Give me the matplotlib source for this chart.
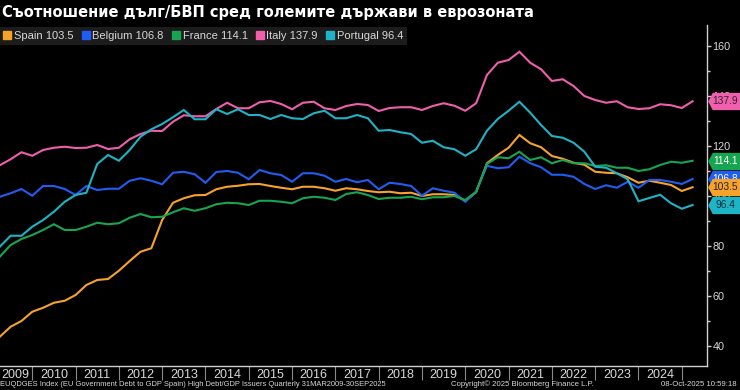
import numpy as np
import matplotlib.pyplot as plt
from matplotlib.path import Path

# quarterly debt/GDP, Q1 2009 .. Q2 2025
quarters = 2009.25 + 0.25 * np.arange(65)

spain = [43.7, 47.7, 50.0, 53.7, 55.3, 57.3, 58.1, 60.4, 64.4, 66.4,
         66.8, 70.1, 74.0, 77.7, 79.1, 90.4, 97.3, 99.1, 100.3, 100.4,
         102.7, 103.7, 104.1, 104.7, 104.8, 104.0, 103.3, 102.7, 103.7, 103.7,
         103.1, 102.1, 103.1, 102.7, 102.0, 101.5, 101.7, 101.1, 101.3, 100.0,
         100.7, 100.7, 100.4, 98.0, 101.5, 113.1, 116.4, 119.3, 124.4, 121.1,
         119.5, 116.0, 114.9, 113.3, 112.5, 109.7, 109.3, 109.1, 107.5, 105.3,
         106.1, 105.3, 104.4, 102.0, 103.5]
belgium = [99.7, 101.1, 102.8, 100.1, 104.0, 104.0, 102.8, 100.4, 104.0, 102.4,
           102.9, 102.9, 106.1, 107.1, 106.1, 104.7, 109.3, 109.7, 108.7, 105.3,
           109.6, 110.0, 109.3, 106.7, 110.4, 109.1, 108.4, 105.7, 109.1, 109.1,
           108.1, 105.7, 106.8, 105.5, 106.4, 102.7, 105.3, 104.8, 104.0, 100.1,
           103.1, 102.1, 101.3, 97.7, 101.7, 112.1, 111.1, 111.5, 115.7, 113.1,
           111.5, 108.5, 108.5, 107.7, 104.8, 102.8, 104.3, 103.3, 105.7, 103.3,
           106.4, 106.4, 105.7, 104.8, 106.8]
france = [75.7, 80.4, 82.8, 84.4, 86.4, 88.7, 86.4, 86.4, 87.7, 89.3,
          88.7, 89.1, 91.3, 92.8, 91.5, 91.7, 93.5, 95.1, 94.1, 95.1,
          96.7, 97.3, 97.1, 96.4, 98.1, 98.1, 97.7, 97.1, 99.1, 99.7,
          99.3, 98.4, 100.8, 101.5, 100.4, 98.8, 99.3, 99.3, 99.7, 98.7,
          99.5, 99.5, 100.0, 98.4, 101.7, 112.8, 115.5, 115.1, 117.7, 114.4,
          115.5, 113.1, 114.4, 113.1, 113.1, 112.0, 112.3, 111.3, 111.3, 110.0,
          110.7, 112.4, 113.7, 113.3, 114.1]
italy = [112.3, 114.7, 117.5, 116.1, 118.4, 119.3, 119.7, 119.2, 119.3, 120.4,
         118.8, 119.3, 122.7, 124.8, 126.1, 126.0, 129.7, 132.3, 131.9, 131.9,
         134.8, 137.3, 135.1, 135.1, 137.5, 138.0, 136.8, 134.7, 137.3, 137.7,
         135.1, 134.4, 136.0, 136.8, 136.4, 134.0, 135.2, 135.5, 135.5, 134.4,
         136.0, 137.1, 136.1, 134.1, 137.1, 148.4, 153.3, 154.4, 157.7, 153.3,
         150.7, 146.0, 146.7, 144.0, 140.0, 138.4, 137.3, 137.9, 135.5, 134.8,
         135.1, 136.7, 136.3, 135.2, 137.9]
portugal = [79.7, 84.1, 84.1, 87.7, 90.4, 93.7, 97.7, 100.4, 101.3, 112.8,
            116.4, 114.1, 118.4, 123.7, 126.7, 128.8, 131.5, 134.4, 130.7, 130.7,
            134.7, 132.8, 134.7, 132.4, 132.4, 130.8, 132.4, 131.1, 130.8, 133.1,
            134.1, 131.1, 131.1, 132.4, 131.1, 126.1, 126.4, 125.5, 124.8, 121.3,
            122.1, 119.5, 118.7, 116.1, 118.7, 126.1, 130.8, 134.1, 137.7, 133.3,
            128.4, 124.0, 123.3, 121.3, 117.7, 111.7, 111.3, 109.1, 106.7, 97.9,
            99.2, 100.5, 97.1, 94.9, 96.4]

names = ['Spain', 'Belgium', 'France', 'Italy', 'Portugal']
series = [spain, belgium, france, italy, portugal]
colors = ['#f7a32b', '#1f5ef0', '#17a552', '#ef5fae', '#1fb3c6']
tag_text = ['#222222', 'white', 'white', '#3a1f30', '#12323a']

years = list(range(2009, 2025))
year_pos = [2009.62] + [y + 0.5 for y in years[1:]]

BG = '#000000'
FG = '#d8d8d8'
SANS = ['Liberation Sans', 'DejaVu Sans']

fig = plt.figure(figsize=(7.4, 3.9), dpi=100, facecolor=BG)
ax = fig.add_axes([0, 24 / 390, 707 / 740, 341 / 390], facecolor=BG)

handles = []
for name, vals, col in zip(names, series, colors):
    ax.plot(quarters, vals, color=col, lw=1.5, solid_joinstyle='miter')
    h, = ax.plot([], [], ls='none', marker='s', ms=6, color=col)
    handles.append(h)

ax.set_xlim(2009.255, 2025.582)
ax.set_ylim(32, 168.4)

for s in ['left', 'top']:
    ax.spines[s].set_visible(False)
for s in ['right', 'bottom']:
    ax.spines[s].set_color('#cfcfcf')
    ax.spines[s].set_linewidth(1)

# y axis on the right
ax.yaxis.tick_right()
ax.set_yticks(range(40, 161, 20))
ax.set_yticks(range(50, 160, 20), minor=True)
ax.tick_params(axis='y', which='major', direction='out', length=3, width=1,
               colors='#cfcfcf', labelcolor=FG, labelsize=7.8, pad=1)
ax.tick_params(axis='y', which='minor', direction='out', length=2.5, width=1,
               colors='#cfcfcf')
for t in ax.get_yticklabels():
    t.set_fontfamily(SANS)

# x axis: year separators + centred year labels
ax.set_xticks(range(2010, 2026))
ax.set_xticklabels([])
ax.set_xticks(year_pos, minor=True)
ax.set_xticklabels([str(y) for y in years], minor=True)
ax.tick_params(axis='x', which='major', direction='out', length=10, width=0.8,
               colors='#8a8a8a')
ax.tick_params(axis='x', which='minor', length=0, pad=2, labelsize=9,
               labelcolor=FG)
for t in ax.get_xticklabels(minor=True):
    t.set_fontfamily(SANS)

# value tags on the right axis
tag = Path([(-1.0, 0.0), (-0.72, 0.53), (1.0, 0.53), (1.0, -0.53),
            (-0.72, -0.53), (-1.0, 0.0)], closed=True)
ytr = ax.get_yaxis_transform()
order = [4, 3, 2, 1, 0]
for z, i in enumerate(order):
    v = series[i][-1]
    ax.plot([1.024], [v], transform=ytr, marker=tag, ms=23.5, color=colors[i],
            mec='none', clip_on=False, zorder=5 + z)
    ax.text(1.0255, v, f'{v:.1f}', transform=ytr, ha='center', va='center',
            fontsize=7.4, color=tag_text[i], family=SANS, clip_on=False,
            zorder=5.5 + z)

# legend strip
leg = ax.legend(handles, [f'{n} {s[-1]:.1f}' for n, s in zip(names, series)],
                loc='upper left', bbox_to_anchor=(0, (390 - 27) / 390),
                bbox_transform=fig.transFigure, ncol=5, frameon=True,
                fancybox=False, framealpha=1, facecolor='#1c1c1c',
                edgecolor='none', handlelength=0.6, handletextpad=0.3,
                columnspacing=0.8, borderpad=0.35, borderaxespad=0,
                prop={'family': SANS, 'size': 8})
for t in leg.get_texts():
    t.set_color(FG)

fig.text(0.003, 1 - 13 / 390, 'Съотношение дълг/БВП сред големите държави в еврозоната',
         color='white', fontsize=10.5, fontweight='bold', ha='left', va='center',
         family='DejaVu Sans')

fig.text(0.0, 6 / 390,
         'EUQDGES Index (EU Government Debt to GDP Spain) High Debt/GDP Issuers Quarterly 31MAR2009-30SEP2025',
         color=FG, fontsize=5.4, ha='left', va='center', family=SANS)
fig.text(522 / 740, 6 / 390, 'Copyright© 2025 Bloomberg Finance L.P.',
         color=FG, fontsize=5.6, ha='center', va='center', family=SANS)
fig.text(737 / 740, 6 / 390, '08-Oct-2025 10:59:18',
         color=FG, fontsize=5.6, ha='right', va='center', family=SANS)

fig.savefig('out.png', dpi=100, facecolor=BG)
